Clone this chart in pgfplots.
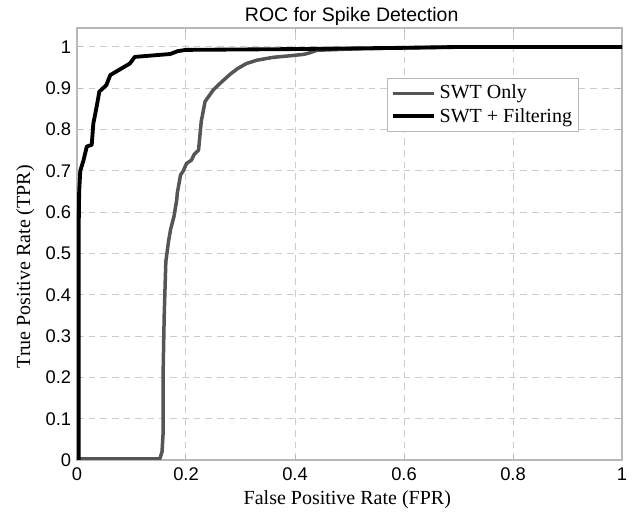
\documentclass[border=0pt]{standalone}
\usepackage{pgfplots}
\pgfplotsset{compat=1.18}
\usepackage{fontspec}
\setmainfont{Liberation Serif}
\newfontfamily\sansf{Liberation Sans}
\definecolor{curvegray}{HTML}{555555}
\definecolor{gridgray}{HTML}{CCCCCC}
\definecolor{framegray}{HTML}{B8B8B8}
\begin{document}
\begin{tikzpicture}
\begin{axis}[
  name=ax,
  scale only axis,
  width=327pt, height=259.2pt,
  xmin=0, xmax=1, ymin=0, ymax=1.046,
  xtick={0,0.2,0.4,0.6,0.8,1},
  ytick={0,0.1,0.2,0.3,0.4,0.5,0.6,0.7,0.8,0.9,1},
  xticklabels={0,0.2,0.4,0.6,0.8,1},
  yticklabels={0,0.1,0.2,0.3,0.4,0.5,0.6,0.7,0.8,0.9,1},
  ticklabel style={font=\sansf\fontsize{11}{13}\selectfont},
  xticklabel style={yshift=-1pt},
  grid=major,
  major grid style={gridgray, dash pattern=on 4pt off 3pt, line width=0.6pt},
  axis line style={framegray, line width=0.8pt},
  tick style={framegray, line width=0.6pt},
  major tick length=3pt,
  every axis title shift=0pt,
  title={ROC for Spike Detection},
  title style={font=\sansf\fontsize{11.7}{14}\selectfont, at={(axis description cs:0.504,1.014)}, anchor=base, inner sep=0pt},
  xlabel={False Positive Rate (FPR)},
  xlabel style={font=\fontsize{12}{14}\selectfont, at={(axis description cs:0.496,-0.102)}, anchor=base, inner sep=0pt},
  ylabel={True Positive Rate (TPR)},
  ylabel style={font=\fontsize{12}{14}\selectfont, at={(axis description cs:-0.086,0.4475)}, anchor=base, inner sep=0pt, rotate=0},
  legend style={at={(axis description cs:0.569,0.884)}, anchor=north west, draw=framegray, fill=white, font=\fontsize{12}{14}\selectfont, inner sep=2pt, row sep=0pt},
  legend cell align=left,
  legend image code/.code={\draw[#1] (0cm,0cm) -- (0.88cm,0cm);},
]
\addplot[curvegray, line width=2.1pt, line join=round] coordinates {
(0,0.003) (0.152,0.003) (0.156,0.02) (0.158,0.065) (0.158,0.21) (0.160,0.35)
(0.163,0.48) (0.168,0.53) (0.172,0.56) (0.178,0.59) (0.183,0.63) (0.184,0.646)
(0.190,0.69) (0.195,0.70) (0.201,0.718) (0.210,0.726) (0.215,0.74) (0.223,0.75)
(0.228,0.82) (0.235,0.868) (0.25,0.896) (0.265,0.915) (0.281,0.934) (0.295,0.948)
(0.311,0.96) (0.33,0.968) (0.36,0.975) (0.385,0.978) (0.415,0.982) (0.425,0.985)
(0.44,0.992) (0.5,0.995) (0.6,0.998) (0.7,1) (1,1)
};
\addlegendentry{SWT Only}
\addplot[black, line width=2.3pt, line join=round] coordinates {
(0.003,0) (0.003,0.55) (0.004,0.65) (0.006,0.70) (0.012,0.726) (0.018,0.759)
(0.027,0.763) (0.030,0.815) (0.036,0.855) (0.041,0.892) (0.054,0.908) (0.061,0.932)
(0.097,0.96) (0.106,0.976) (0.171,0.983) (0.185,0.99) (0.2,0.993) (0.4,0.995)
(0.6,0.998) (0.7,1) (1,1)
};
\addlegendentry{SWT + Filtering}
\end{axis}
\pgfresetboundingbox
\path ([shift={(-46.2pt,-31.8pt)}]ax.south west) rectangle ([shift={(7.2pt,16.8pt)}]ax.north east);
\end{tikzpicture}
\end{document}
